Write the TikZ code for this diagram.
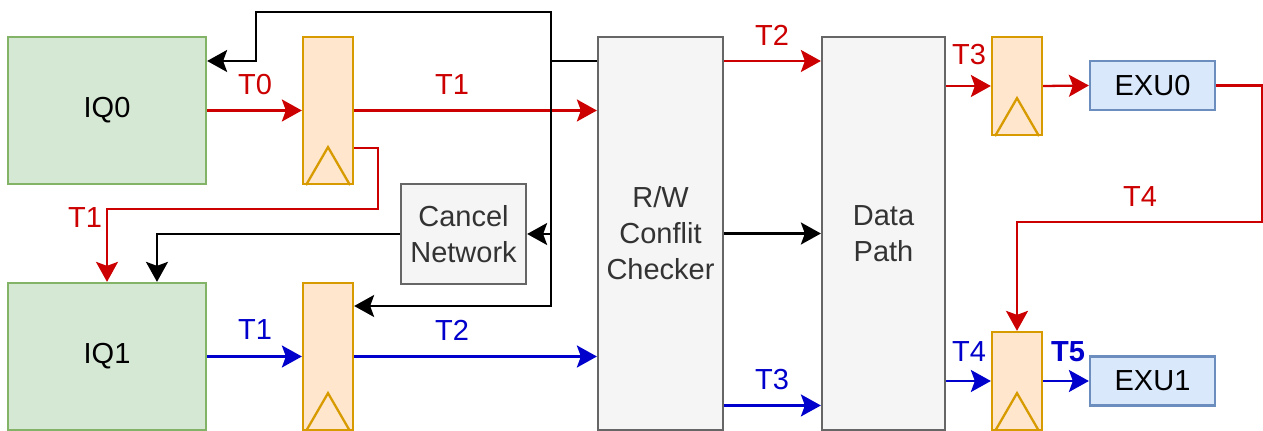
\documentclass[tikz,border=0pt]{standalone}
\usepackage{fontspec}
\setmainfont{Liberation Sans}
\usetikzlibrary{arrows.meta,calc}
\definecolor{iqfill}{HTML}{D5E8D4}
\definecolor{iqline}{HTML}{82B366}
\definecolor{regfill}{HTML}{FFE6CC}
\definecolor{regline}{HTML}{D79B00}
\definecolor{gfill}{HTML}{F5F5F5}
\definecolor{gline}{HTML}{666666}
\definecolor{gtext}{HTML}{333333}
\definecolor{efill}{HTML}{DAE8FC}
\definecolor{eline}{HTML}{6C8EBF}
\definecolor{wred}{HTML}{CC0000}
\definecolor{wblue}{HTML}{0000CC}
\tikzset{
  box/.style={draw, line width=1.3pt, inner sep=0pt, align=center,
    font=\fontsize{16.5}{20.5}\selectfont},
  iq/.style={box, fill=iqfill, draw=iqline, minimum width=3.96cm, minimum height=2.94cm},
  reg/.style={box, fill=regfill, draw=regline, minimum width=1cm},
  gbox/.style={box, fill=gfill, draw=gline, text=gtext},
  exu/.style={box, fill=efill, draw=eline, minimum width=2.5cm, minimum height=0.98cm},
  conn/.style={line width=1.3pt, -{Stealth[length=0.4cm, width=0.44cm, inset=0.08cm]}},
  redw/.style={conn, draw=wred},
  bluew/.style={conn, draw=wblue},
  blkw/.style={conn, draw=black},
  lab/.style={inner sep=0pt, font=\fontsize{16.5}{20}\selectfont},
  tri/.style={line width=1.3pt, draw=regline},
}
\begin{document}
\begin{tikzpicture}[x=0.02cm, y=-0.02cm]
\useasboundingbox (0,0) rectangle (1263,431);
% boxes
\node[iq] (iq0) at (107,110.5) {IQ0};
\node[iq] (iq1) at (107,356.5) {IQ1};
\node[reg, minimum height=2.94cm] (r0) at (328,110.5) {};
\node[reg, minimum height=2.94cm] (r1) at (328,356.5) {};
\node[gbox, minimum width=2.5cm, minimum height=2cm] (cancel) at (463.5,234) {Cancel\\Network};
\node[gbox, minimum width=2.5cm, minimum height=7.86cm] (rw) at (660.5,233.5) {R/W\\Conflit\\Checker};
\node[gbox, minimum width=2.46cm, minimum height=7.86cm] (dp) at (883.5,233.5) {Data\\Path};
\node[reg, minimum height=1.96cm] (r2) at (1017,86) {};
\node[reg, minimum height=1.96cm] (r3) at (1017,381) {};
\node[exu] (exu0) at (1152.5,85.5) {EXU0};
\node[exu] (exu1) at (1152.5,381) {EXU1};
% clock triangles
\foreach \r in {r0,r1,r2,r3}{
  \draw[tri] ([xshift=-0.44cm]\r.south) -- ([yshift=0.76cm]\r.south) -- ([xshift=0.44cm]\r.south);
}
% helper coordinates
\coordinate (jtop) at (551,61);
\coordinate (y306) at (0,306);
% red paths
\draw[redw] (iq0.east) -- (r0.west);
\draw[redw] (r0.east) -- (r0.east -| rw.west);
\draw[redw] ([yshift=-0.75cm]r0.east) -| (378,209) -| (iq1.north);
\draw[redw] (rw.east |- jtop) -- (dp.west |- jtop);
\draw[redw] (dp.east |- r2.west) -- (r2.west);
\draw[redw] (r2.east) -- (exu0.west);
\draw[redw] (exu0.east) -| (1262,222) -| (r3.north);
% black paths
\draw[blkw] (jtop -| rw.west) -- (jtop) -- (551,12) -| (256,61) -- (iq0.east |- jtop);
\draw[blkw] (jtop) |- (r1.east |- y306);
\draw[blkw] (jtop |- cancel.east) -- (cancel.east);
\draw[blkw] (cancel.west) -| ([xshift=1cm]iq1.north);
\draw[blkw] (rw.east) -- (dp.west);
% blue paths
\draw[bluew] (iq1.east) -- (r1.west);
\draw[bluew] (r1.east) -- (r1.east -| rw.west);
\draw[bluew] ([yshift=-3.44cm]rw.east) -- ([yshift=-3.44cm]dp.west);
\draw[bluew] (dp.east |- r3.west) -- (r3.west);
\draw[bluew] (r3.east) -- (exu1.west);
% labels
\node[lab, text=wred] (l1) at (255,85) {T0};
\node[lab, text=wred] (l2) at (452,85) {T1};
\node[lab, text=wred] (l3) at (85,218) {T1};
\node[lab, text=wblue] (l4) at (255,330) {T1};
\node[lab, text=wblue] (l5) at (452,330) {T2};
\node[lab, text=wred] (l6) at (772,35) {T2};
\node[lab, text=wblue] (l7) at (772,380) {T3};
\node[lab, text=wred] (l8) at (969,55) {T3};
\node[lab, text=wred] (l9) at (1140,197) {T4};
\node[lab, text=wblue] (l10) at (969,352) {T4};
\node[lab, text=wblue, font=\fontsize{16.5}{20}\selectfont\bfseries] (l11) at (1068,352) {T5};
\end{tikzpicture}
\end{document}
